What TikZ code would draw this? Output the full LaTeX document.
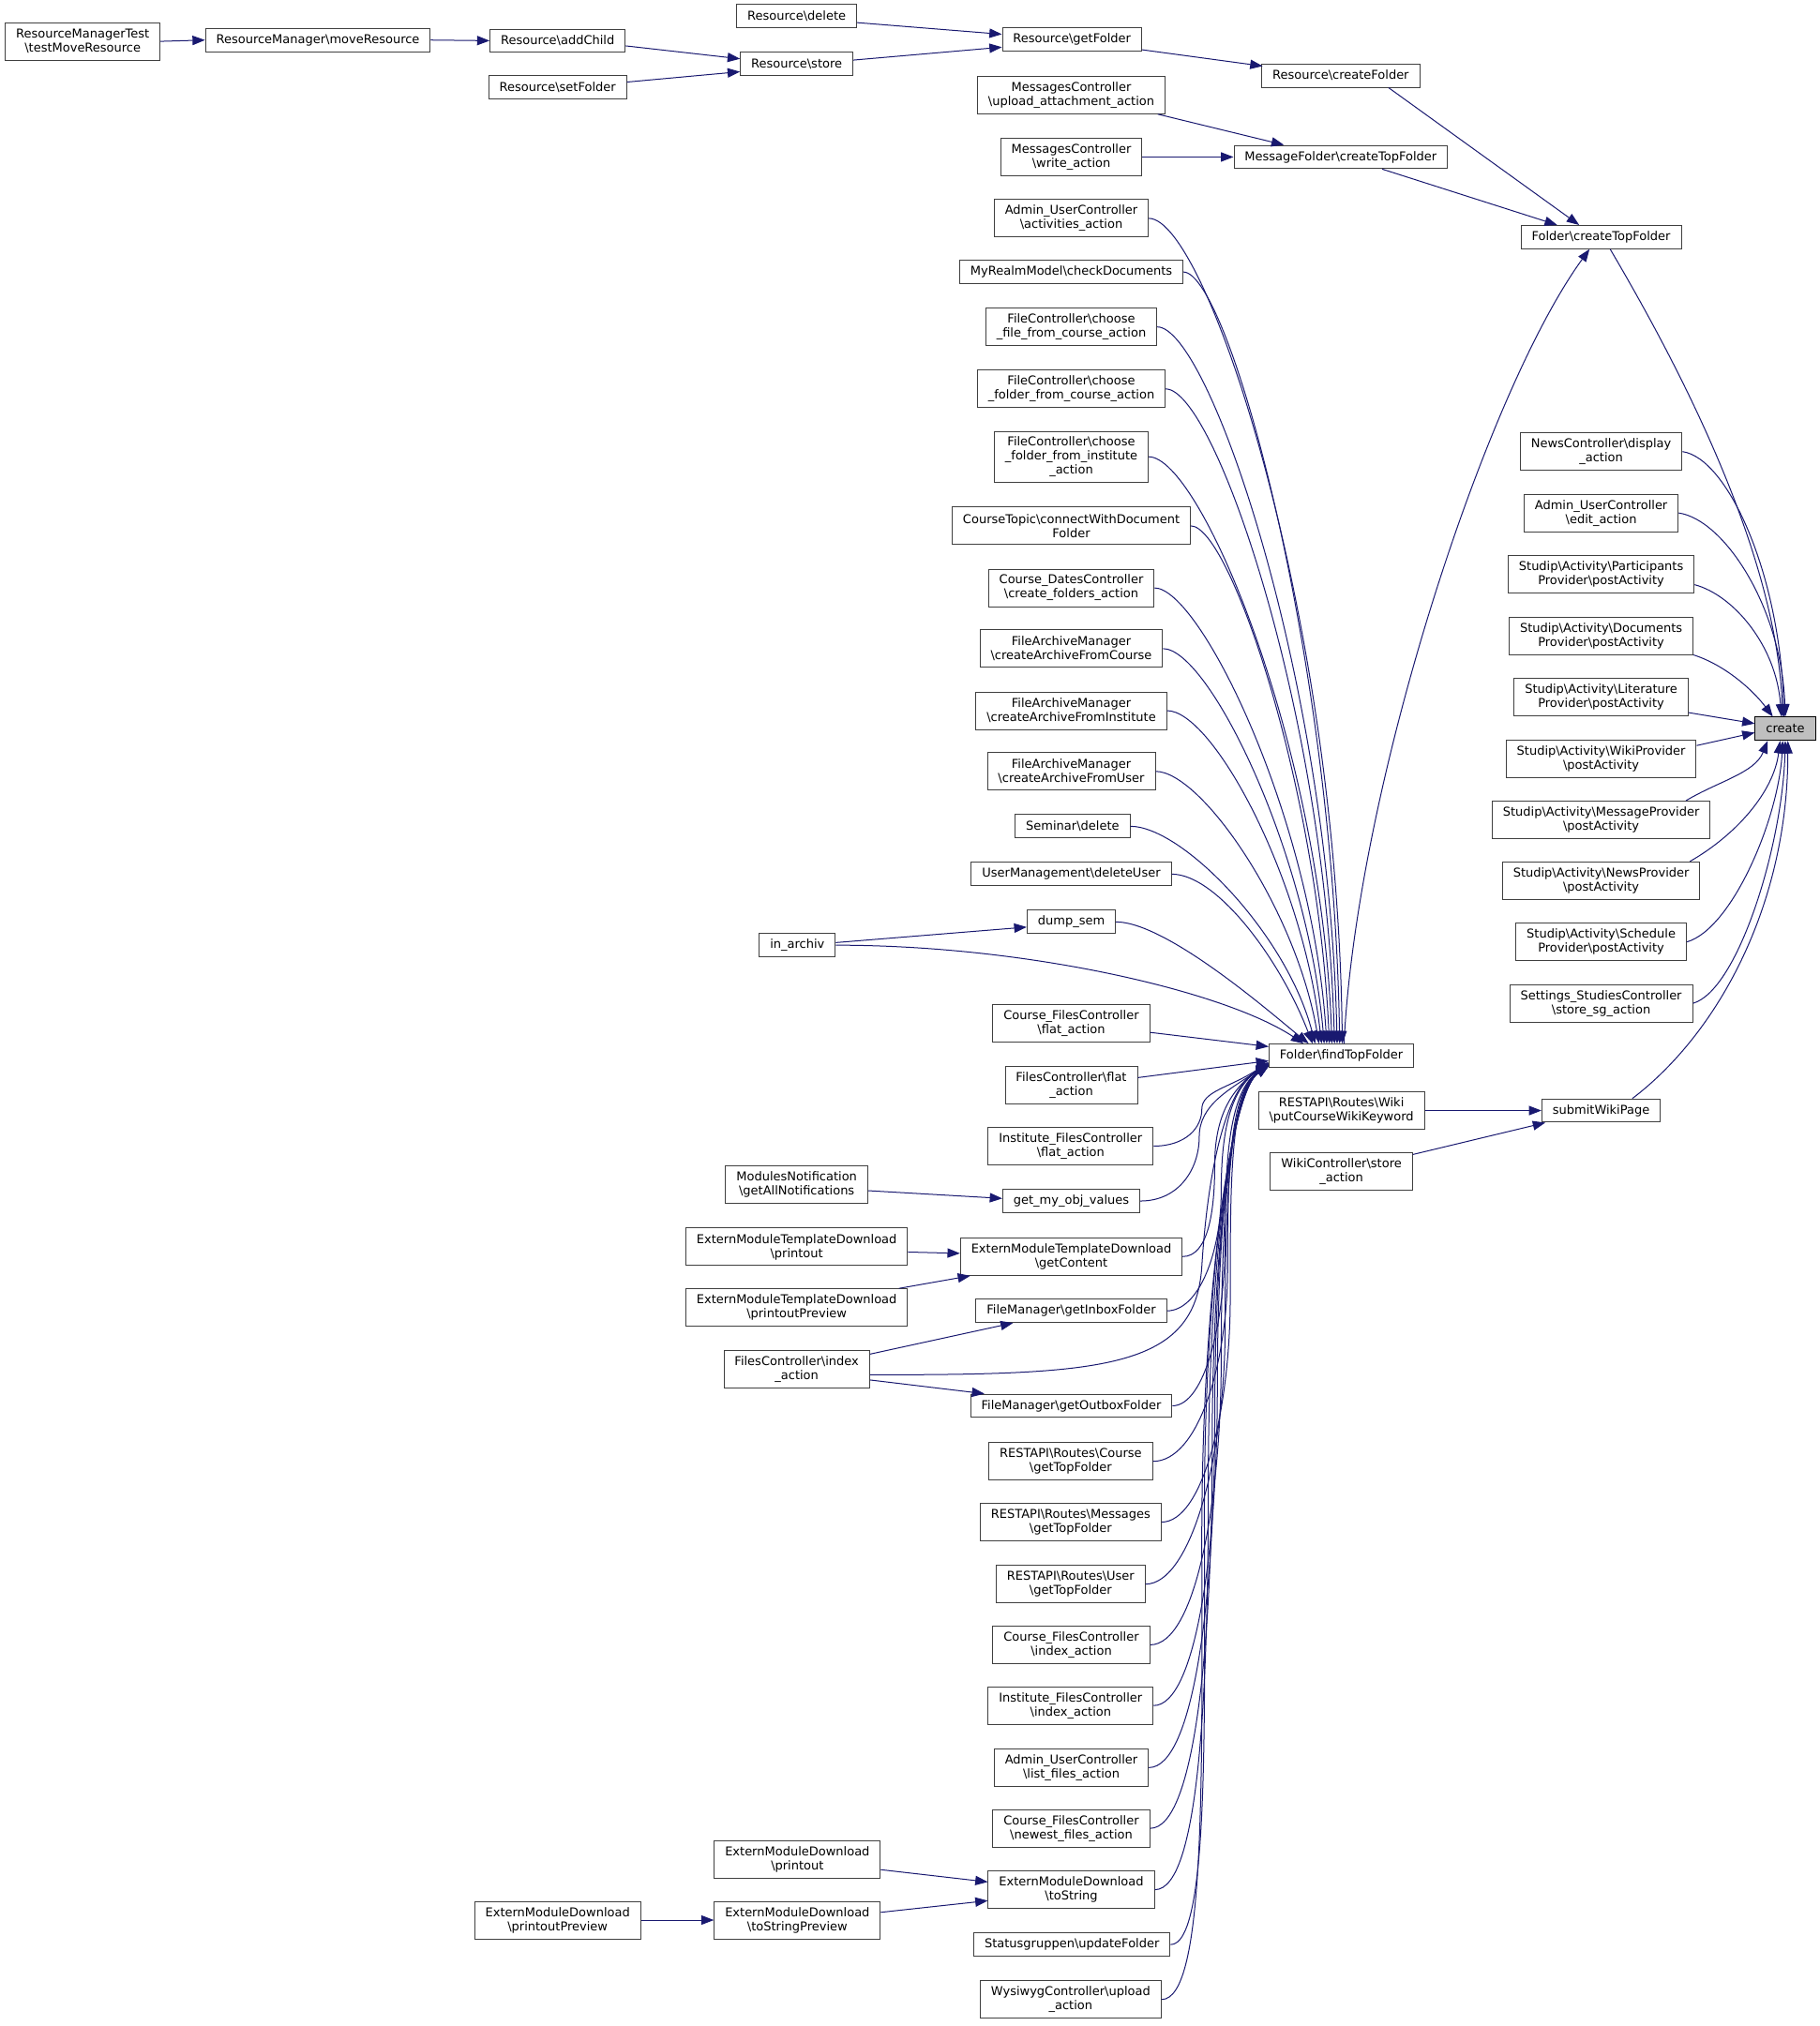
\documentclass[tikz,border=0pt]{standalone}
\usepackage{fontspec}
\setmainfont{DejaVu Sans}
\usepackage{tikz}
\usetikzlibrary{arrows.meta}
\definecolor{edgeBlue}{HTML}{191970}
\definecolor{hlGray}{HTML}{BFBFBF}
\newcommand{\bsl}{\textbackslash}

\begin{document}
\begin{tikzpicture}[x=1.034pt, y=-1.034pt,
  fn/.style={rectangle,draw=black!75,fill=white,line width=0.75pt,align=center,
    font=\fontsize{9.75}{11.25}\selectfont,inner xsep=8.6pt,inner ysep=2pt,minimum height=18.6pt},
  two/.style={minimum height=30pt},
  three/.style={minimum height=40.3pt},
  hl/.style={fn,fill=hlGray,draw=black},
  call/.style={draw=edgeBlue,line width=0.75pt,-{Triangle[length=10pt,width=7.5pt]}}
]
\path[use as bounding box,fill=white] (0,0) rectangle (1408,1568);

\node[fn,two] (tmr) at (64,32) {ResourceManagerTest\\\bsl testMoveResource};
\node[fn] (rmMove) at (246,31) {ResourceManager\bsl moveResource};
\node[fn] (rAddChild) at (431.5,31.5) {Resource\bsl addChild};
\node[fn] (rSetFolder) at (431.5,67.5) {Resource\bsl setFolder};
\node[fn] (rStore) at (616.5,49.5) {Resource\bsl store};
\node[fn] (rDelete) at (616.5,12.5) {Resource\bsl delete};
\node[fn] (rGetFolder) at (829.5,30.5) {Resource\bsl getFolder};
\node[fn] (rCreateFolder) at (1037.5,58.5) {Resource\bsl createFolder};
\node[fn,two] (mcUpload) at (829,73.5) {MessagesController\\\bsl upload\_attachment\_action};
\node[fn,two] (mcWrite) at (829,121.5) {MessagesController\\\bsl write\_action};
\node[fn] (mfCreateTop) at (1037.5,121.5) {MessageFolder\bsl createTopFolder};
\node[fn] (fCreateTop) at (1239,183.5) {Folder\bsl createTopFolder};

\node[fn,two] (aucAct) at (829,169) {Admin\_UserController\\\bsl activities\_action};
\node[fn] (mrmCheck) at (829,210.5) {MyRealmModel\bsl checkDocuments};
\node[fn,two] (fcFile) at (829,253) {FileController\bsl choose\\\_file\_from\_course\_action};
\node[fn,two] (fcFolderCourse) at (829,301) {FileController\bsl choose\\\_folder\_from\_course\_action};
\node[fn,three] (fcFolderInst) at (829,353.5) {FileController\bsl choose\\\_folder\_from\_institute\\\_action};
\node[fn,two] (ctConnect) at (829,407) {CourseTopic\bsl connectWithDocument\\Folder};
\node[fn,two] (cdcCreate) at (829,455) {Course\_DatesController\\\bsl create\_folders\_action};
\node[fn,two] (famCourse) at (829,502) {FileArchiveManager\\\bsl createArchiveFromCourse};
\node[fn,two] (famInst) at (829,550) {FileArchiveManager\\\bsl createArchiveFromInstitute};
\node[fn,two] (famUser) at (829,597) {FileArchiveManager\\\bsl createArchiveFromUser};
\node[fn] (semDelete) at (830,639.5) {Seminar\bsl delete};
\node[fn] (umDelete) at (829,676.5) {UserManagement\bsl deleteUser};
\node[fn] (dumpSem) at (829,713.5) {dump\_sem};
\node[fn] (inArchiv) at (617,731.5) {in\_archiv};
\node[fn,two] (cfcFlat) at (829,792) {Course\_FilesController\\\bsl flat\_action};
\node[fn,two] (fcFlat) at (829,840) {FilesController\bsl flat\\\_action};
\node[fn,two] (ifcFlat) at (828.5,887) {Institute\_FilesController\\\bsl flat\_action};
\node[fn,two] (mnNotif) at (616.5,917) {ModulesNotification\\\bsl getAllNotifications};
\node[fn] (gmov) at (829,929.5) {get\_my\_obj\_values};
\node[fn,two] (emtdPrintout) at (616.5,965) {ExternModuleTemplateDownload\\\bsl printout};
\node[fn,two] (emtdContent) at (829,972.5) {ExternModuleTemplateDownload\\\bsl getContent};
\node[fn,two] (emtdPreview) at (616.5,1012) {ExternModuleTemplateDownload\\\bsl printoutPreview};
\node[fn] (fmInbox) at (829,1014.5) {FileManager\bsl getInboxFolder};
\node[fn,two] (fcIndex) at (616.5,1060) {FilesController\bsl index\\\_action};
\node[fn] (fmOutbox) at (829,1088) {FileManager\bsl getOutboxFolder};
\node[fn,two] (raCourse) at (828.5,1131) {RESTAPI\bsl Routes\bsl Course\\\bsl getTopFolder};
\node[fn,two] (raMessages) at (828.5,1178) {RESTAPI\bsl Routes\bsl Messages\\\bsl getTopFolder};
\node[fn,two] (raUser) at (828.5,1226) {RESTAPI\bsl Routes\bsl User\\\bsl getTopFolder};
\node[fn,two] (cfcIndex) at (829,1273) {Course\_FilesController\\\bsl index\_action};
\node[fn,two] (ifcIndex) at (828.5,1320) {Institute\_FilesController\\\bsl index\_action};
\node[fn,two] (aucList) at (829,1368) {Admin\_UserController\\\bsl list\_files\_action};
\node[fn,two] (cfcNewest) at (829,1415) {Course\_FilesController\\\bsl newest\_files\_action};
\node[fn,two] (emdPrintout) at (617,1439) {ExternModuleDownload\\\bsl printout};
\node[fn,two] (emdToString) at (829,1462.5) {ExternModuleDownload\\\bsl toString};
\node[fn,two] (emdPreview) at (431.5,1486) {ExternModuleDownload\\\bsl printoutPreview};
\node[fn,two] (emdTsPreview) at (617,1486) {ExternModuleDownload\\\bsl toStringPreview};
\node[fn] (sgUpdate) at (829.5,1505) {Statusgruppen\bsl updateFolder};
\node[fn,two] (wysUpload) at (828.5,1547.5) {WysiwygController\bsl upload\\\_action};

\node[fn] (ftf) at (1038,817) {Folder\bsl findTopFolder};
\node[fn,two] (raWiki) at (1038,859.5) {RESTAPI\bsl Routes\bsl Wiki\\\bsl putCourseWikiKeyword};
\node[fn,two] (wcStore) at (1038,906.5) {WikiController\bsl store\\\_action};
\node[fn] (swp) at (1239,859.5) {submitWikiPage};
\node[hl] (create) at (1381.5,564) {create};

\node[fn,two] (ncDisplay) at (1239,349.5) {NewsController\bsl display\\\_action};
\node[fn,two] (aucEdit) at (1239,397) {Admin\_UserController\\\bsl edit\_action};
\node[fn,two] (saPart) at (1239,444.5) {Studip\bsl Activity\bsl Participants\\Provider\bsl postActivity};
\node[fn,two] (saDoc) at (1239,492) {Studip\bsl Activity\bsl Documents\\Provider\bsl postActivity};
\node[fn,two] (saLit) at (1239,539.5) {Studip\bsl Activity\bsl Literature\\Provider\bsl postActivity};
\node[fn,two] (saWiki) at (1239,587) {Studip\bsl Activity\bsl WikiProvider\\\bsl postActivity};
\node[fn,two] (saMsg) at (1239,634.5) {Studip\bsl Activity\bsl MessageProvider\\\bsl postActivity};
\node[fn,two] (saNews) at (1239,681.5) {Studip\bsl Activity\bsl NewsProvider\\\bsl postActivity};
\node[fn,two] (saSched) at (1239,729) {Studip\bsl Activity\bsl Schedule\\Provider\bsl postActivity};
\node[fn,two] (sscStore) at (1239,776.5) {Settings\_StudiesController\\\bsl store\_sg\_action};

\draw[call] (tmr.east) -- (rmMove.west);
\draw[call] (rmMove.east) -- (rAddChild.west);
\draw[call] ([shift={(0,4)}]rAddChild.east) -- ([shift={(0,-4)}]rStore.west);
\draw[call] ([shift={(0,-4)}]rSetFolder.east) -- ([shift={(0,6)}]rStore.west);
\draw[call] ([shift={(0,5)}]rDelete.east) -- ([shift={(0,-4)}]rGetFolder.west);
\draw[call] ([shift={(0,-3)}]rStore.east) -- ([shift={(0,6)}]rGetFolder.west);
\draw[call] ([shift={(0,8)}]rGetFolder.east) -- ([shift={(1,2)}]rCreateFolder.north west);
\draw[call] ([shift={(37,0)}]rCreateFolder.south) -- ([shift={(-17,0)}]fCreateTop.north);
\draw[call] ([shift={(-6,0)}]mcUpload.south east) -- ([shift={(39,0)}]mfCreateTop.north west);
\draw[call] (mcWrite.east) -- (mfCreateTop.west);
\draw[call] ([shift={(32,0)}]mfCreateTop.south) -- ([shift={(-34,0)}]fCreateTop.north);
\draw[call] ([shift={(2,0)}]ftf.north) .. controls +(10,-200) and +(-80,110) .. ([shift={(-9,0)}]fCreateTop.south);

\foreach \n/\dx/\a/\b/\h in {aucAct/57/45/-4/330, mrmCheck/55/35/-5/300, fcFile/53/40/-6/280,
  fcFolderCourse/51/38/-7/255, fcFolderInst/49/40/-8/230, ctConnect/47/30/-9/200,
  cdcCreate/45/35/-11/175, famCourse/43/35/-13/150, famInst/41/35/-15/130,
  famUser/39/35/-18/105, semDelete/36/40/-22/85, umDelete/34/35/-25/65,
  dumpSem/31/40/-25/20, inArchiv/27/150/-60/40}
  \draw[call] (\n.east) .. controls +(\a,0) and +(\b,-\h) .. ([shift={(\dx,0)}]ftf.north west);
\draw[call] ([shift={(0,-2)}]inArchiv.east) -- ([shift={(0,4)}]dumpSem.west);

\draw[call] ([shift={(0,7)}]cfcFlat.east) -- ([shift={(0,-7)}]ftf.west);
\draw[call] ([shift={(0,-6)}]fcFlat.east) -- ([shift={(0,4)}]ftf.west);
\foreach \n/\sy/\a/\bx/\dy in {ifcFlat/887/25/930/5, gmov/929.5/30/928/6, emtdContent/972.5/20/940/6,
  fmInbox/1014.5/25/945/6, fmOutbox/1088/25/948/7, raCourse/1131/35/950/7,
  raMessages/1178/32/952/7, raUser/1226/35/948/7, cfcIndex/1273/35/945/7,
  ifcIndex/1320/33/942/7, aucList/1368/35/940/7, cfcNewest/1415/35/938/8,
  emdToString/1462.5/35/935/8, sgUpdate/1505/30/932/8, wysUpload/1547.5/35/930/8}{
  \pgfmathsetmacro{\by}{(\sy+830)/2}
  \pgfmathsetmacro{\q}{0.25*(\sy-830)}
  \draw[call] (\n.east) .. controls +(\a,0) and (\bx,\by+\q) .. (\bx,\by)
    .. controls (\bx,\by-\q) and +(-30,20) .. ([shift={(0,\dy)}]ftf.west);
}
\draw[call] ([shift={(0,4)}]fcIndex.east) .. controls +(180,0) and (925,1060) .. (930,980)
  .. controls (935,900) and (950,840) .. ([shift={(0,7)}]ftf.west);

\draw[call] ([shift={(0,4.5)}]mnNotif.east) -- ([shift={(0,-2)}]gmov.west);
\draw[call] ([shift={(0,4)}]emtdPrintout.east) -- ([shift={(0,-2.5)}]emtdContent.west);
\draw[call] ([shift={(-7,0)}]emtdPreview.north east) -- ([shift={(8,0)}]emtdContent.south west);
\draw[call] ([shift={(0,-12)}]fcIndex.east) -- ([shift={(29,0)}]fmInbox.south west);
\draw[call] ([shift={(0,8)}]fcIndex.east) -- ([shift={(11,0)}]fmOutbox.north west);
\draw[call] ([shift={(0,8)}]emdPrintout.east) -- ([shift={(0,-6)}]emdToString.west);
\draw[call] ([shift={(0,-6)}]emdTsPreview.east) -- ([shift={(0,8.5)}]emdToString.west);
\draw[call] (emdPreview.east) -- (emdTsPreview.west);

\draw[call] (raWiki.east) -- (swp.west);
\draw[call] ([shift={(0,-13)}]wcStore.east) -- ([shift={(3,0)}]swp.south west);

\draw[call] ([shift={(7,0)}]fCreateTop.south) .. controls +(50,85) and +(-5,-130) .. ([shift={(-2,0)}]create.north);
\draw[call] (ncDisplay.east) .. controls +(35,5) and +(-3,-110) .. ([shift={(-1,0)}]create.north);
\draw[call] (aucEdit.east) .. controls +(35,5) and +(-3,-85) .. (create.north);
\draw[call] ([shift={(0,8)}]saPart.east) .. controls +(30,8) and +(-4,-55) .. ([shift={(-3,0)}]create.north);
\draw[call] (saDoc.south east) .. controls +(25,8) and +(-15,-20) .. ([shift={(14,0)}]create.north west);
\draw[call] ([shift={(0,12)}]saLit.east) -- ([shift={(0,-4)}]create.west);
\draw[call] ([shift={(0,-10)}]saWiki.east) -- ([shift={(0,3)}]create.west);
\draw[call] ([shift={(-19,0)}]saMsg.north east) .. controls +(25,-15) and +(-10,25) .. ([shift={(10,0)}]create.south west);
\draw[call] ([shift={(-8,0)}]saNews.north east) .. controls +(35,-20) and +(-5,40) .. ([shift={(-4,0)}]create.south);
\draw[call] (saSched.east) .. controls +(35,-10) and +(-3,60) .. ([shift={(-2,0)}]create.south);
\draw[call] (sscStore.east) .. controls +(35,-10) and +(-2,80) .. (create.south);
\draw[call] ([shift={(-22,0)}]swp.north east) .. controls +(67,-51) and +(0,126) .. ([shift={(2,0)}]create.south);
\end{tikzpicture}
\end{document}
